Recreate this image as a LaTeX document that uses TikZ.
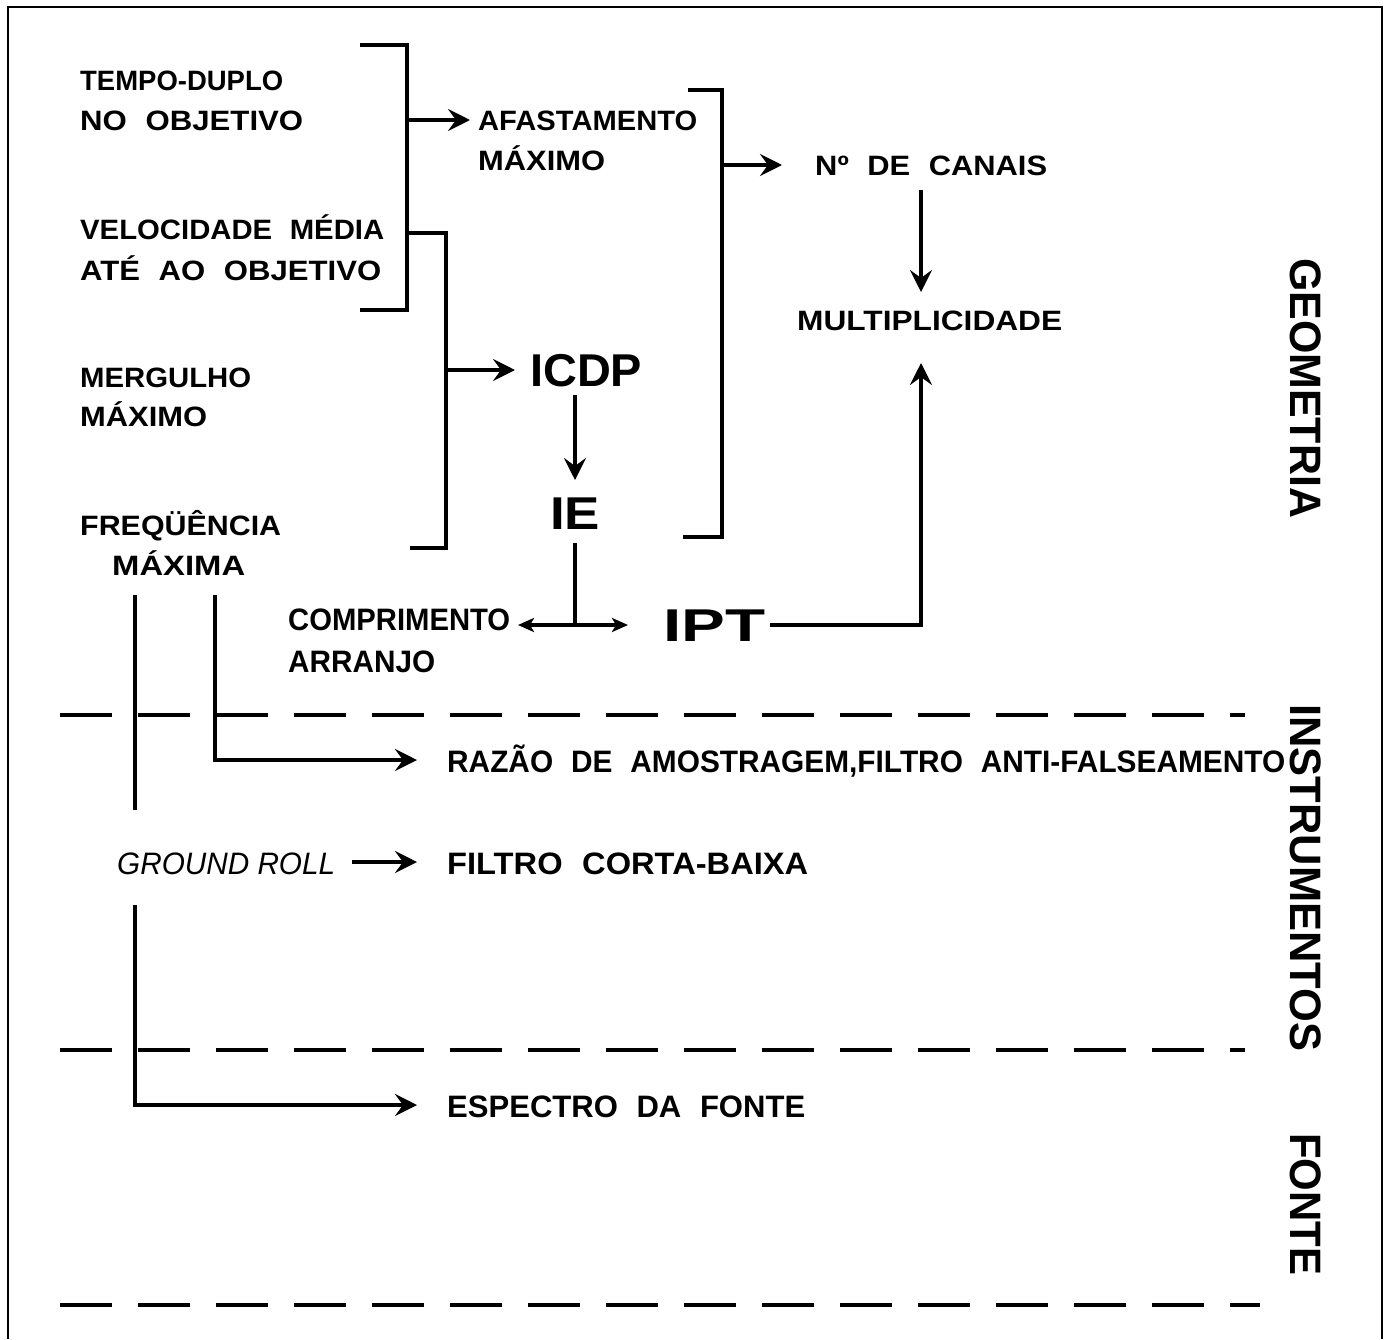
\documentclass[tikz,border=0pt]{standalone}
\usepackage{fontspec}
\setmainfont{Liberation Sans}
\usetikzlibrary{arrows.meta}
\newcommand{\fw}[2]{\resizebox{#1pt}{\height}{\spaceskip=0.6em\relax #2}}
\newcommand{\fn}[2]{\resizebox{#1pt}{\height}{#2}}
\begin{document}
\begin{tikzpicture}[x=1pt,y=-1pt,
  lbl/.style={font=\bfseries\fontsize{28}{30}\selectfont, inner sep=0pt, anchor=base west},
  thin/.style={font=\bfseries\fontsize{31}{33}\selectfont, inner sep=0pt, anchor=base west},
  big/.style={font=\bfseries\fontsize{46}{48}\selectfont, inner sep=0pt, anchor=base west},
  side/.style={font=\bfseries\fontsize{44}{46}\selectfont, inner sep=0pt, rotate=-90, anchor=center},
  ln/.style={line width=4pt, line join=miter},
  arr/.style={ln, -{Stealth[length=22pt,width=22pt,inset=8pt]}},
  dbl/.style={ln, {Stealth[length=16pt,width=14pt,inset=4pt]}-{Stealth[length=16pt,width=14pt,inset=4pt]}},
  dsh/.style={line width=4.5pt, dash pattern=on 52pt off 26pt}]
\useasboundingbox (0,0) rectangle (1387,1339);
\fill[white] (0,0) rectangle (1387,1339);
% frame
\draw[line width=2.5pt] (8,1339) -- (8,7) -- (1382,7) -- (1382,1339);

% left labels
\node[lbl] (t1) at (80,90) {\fn{203}{TEMPO-DUPLO}};
\node[lbl] (t2) at (80,130) {\fw{223}{NO OBJETIVO}};
\node[lbl] (v1) at (80,239) {\fw{304}{VELOCIDADE MÉDIA}};
\node[lbl] (v2) at (80,280) {\fw{301}{ATÉ AO OBJETIVO}};
\node[lbl] (m1) at (80,387) {\fn{171}{MERGULHO}};
\node[lbl] (m2) at (80,426) {\fn{127}{MÁXIMO}};
\node[lbl] (f1) at (80,535) {\fn{201}{FREQÜÊNCIA}};
\node[lbl] (f2) at (112,575) {\fn{133}{MÁXIMA}};

% middle labels
\node[lbl] (af1) at (478,130) {\fn{219}{AFASTAMENTO}};
\node[lbl] (af2) at (478,170) {\fn{127}{MÁXIMO}};
\node[big] (icdp) at (530,386) {\fn{112}{ICDP}};
\node[big] (ie) at (550,529) {\fn{50}{IE}};
\node[big] (ipt) at (663,641) {\fn{102}{IPT}};
\node[lbl] (nc) at (815,175) {\fw{232}{Nº DE CANAIS}};
\node[lbl] (mult) at (797,330) {\fn{265}{MULTIPLICIDADE}};
\node[thin] (c1) at (288,630) {\fn{222}{COMPRIMENTO}};
\node[thin] (c2) at (288,672) {\fn{147}{ARRANJO}};

% lower labels
\node[thin] (raz) at (447,772) {\fw{838}{RAZÃO DE AMOSTRAGEM,FILTRO ANTI-FALSEAMENTO}};
\node[thin, font=\itshape\fontsize{31}{33}\selectfont] (gr) at (117,874) {\fn{218}{GROUND ROLL}};
\node[thin] (fcb) at (447,874) {\fw{361}{FILTRO CORTA-BAIXA}};
\node[thin] (esp) at (447,1117) {\fw{358}{ESPECTRO DA FONTE}};

% side labels
\node[side] (geo) at (1306,388) {\fn{260}{GEOMETRIA}};
\node[side] (ins) at (1306,878) {\fn{347}{INSTRUMENTOS}};
\node[side] (fon) at (1306,1204) {\fn{142}{FONTE}};

% bracket 1
\coordinate (b1a) at (360,45);
\coordinate (b1b) at (360,310);
\draw[ln] (b1a) -- (407,45) -- (407,310) -- (b1b);
\coordinate (b1o) at (407,120);
\coordinate (b1e) at (470,120);
\draw[arr] (b1o) -- (b1e);
% bracket 2
\coordinate (b2a) at (407,233);
\coordinate (b2b) at (410,548);
\draw[ln] (b2a) -- (446,233) -- (446,548) -- (b2b);
\coordinate (b2o) at (446,370);
\coordinate (b2e) at (515,370);
\draw[arr] (b2o) -- (b2e);
% bracket 3
\coordinate (b3a) at (688,90);
\coordinate (b3b) at (683,537);
\draw[ln] (b3a) -- (722,90) -- (722,537) -- (b3b);
\coordinate (b3o) at (722,165);
\coordinate (b3e) at (782,165);
\draw[arr] (b3o) -- (b3e);

% vertical arrows
\draw[arr] (921,190) -- (921,292);
\draw[arr] (575,395) -- (575,480);
\coordinate (iedown) at (575,625);
\draw[ln] (575,543) -- (iedown);
\draw[dbl] (518,625) -- (628,625);
\draw[ln] (770,625) -- (921,625);
\draw[arr] (921,627) -- (921,363);

% left feeds
\draw[ln] (135,595) -- (135,810);
\draw[arr] (215,595) -- (215,760) -- (417,760);
\draw[arr] (352,862) -- (417,862);
\draw[arr] (135,905) -- (135,1105) -- (417,1105);

% dashed separators
\draw[dsh] (60,715) -- (1245,715);
\draw[dsh] (60,1050) -- (1245,1050);
\draw[dsh] (60,1305) -- (1260,1305);
\end{tikzpicture}
\end{document}
